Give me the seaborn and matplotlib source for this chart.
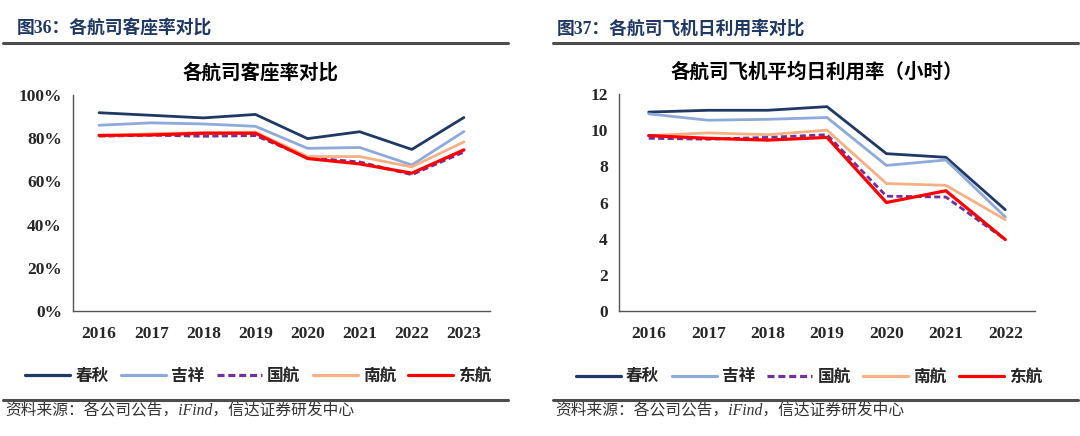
import numpy as np
import pandas as pd
import seaborn as sns
import matplotlib
matplotlib.use("Agg")
from matplotlib import pyplot as plt
from matplotlib.lines import Line2D
from matplotlib.ticker import FuncFormatter

sns.set_theme(style="white")
plt.rcParams['font.family'] = ['Liberation Serif', 'Noto Sans CJK SC', 'DejaVu Sans']
plt.rcParams['axes.unicode_minus'] = False

# ---- data ----
airlines = ['春秋', '吉祥', '国航', '南航', '东航']

years_lf = ['2016', '2017', '2018', '2019', '2020', '2021', '2022', '2023']
lf_chunqiu = [91.8, 90.6, 89.4, 91.0, 79.8, 83.0, 74.8, 89.6]
lf_jixiang = [86.0, 87.1, 86.6, 85.5, 75.3, 75.7, 67.6, 83.1]
lf_guohang = [80.9, 81.4, 80.9, 81.2, 71.0, 69.0, 63.1, 73.6]
lf_nanhang = [80.9, 82.1, 82.6, 82.8, 71.5, 71.5, 66.7, 78.3]
lf_donghang = [81.3, 81.5, 82.3, 82.3, 70.6, 68.1, 63.8, 74.6]

years_util = ['2016', '2017', '2018', '2019', '2020', '2021', '2022']
ut_chunqiu = [11.0, 11.1, 11.1, 11.3, 8.7, 8.5, 5.6]
ut_jixiang = [10.9, 10.55, 10.6, 10.7, 8.05, 8.35, 5.2]
ut_guohang = [9.55, 9.5, 9.6, 9.75, 6.35, 6.3, 3.95]
ut_nanhang = [9.7, 9.85, 9.75, 10.0, 7.05, 6.95, 5.05]
ut_donghang = [9.7, 9.55, 9.45, 9.6, 6.0, 6.65, 3.95]

colors = {'春秋': '#1f3864', '吉祥': '#8eaadb', '国航': '#7030a0',
          '南航': '#f4b183', '东航': '#ff0000'}
dashes = {'春秋': '-', '吉祥': '-', '国航': (0, (2.2, 1.2)), '南航': '-', '东航': '-'}
widths = {'春秋': 2.0, '吉祥': 2.0, '国航': 2.0, '南航': 2.0, '东航': 2.3}

W, H = 1080, 436
fig = plt.figure(figsize=(W / 100, H / 100), dpi=100)
fig.patch.set_facecolor('white')

navy = '#1f3864'


def px_rect(x0, y0, x1, y1):
    return [x0 / W, 1 - y1 / H, (x1 - x0) / W, (y1 - y0) / H]


def hline(x0, x1, y, lw=2.2):
    fig.add_artist(Line2D([x0 / W, x1 / W], [1 - y / H, 1 - y / H],
                          color='#4d4d4d', lw=lw, transform=fig.transFigure))


def draw_panel(rect, years, series, ymax, ystep, fmt, title, title_x, leg_x):
    ax = fig.add_axes(rect)
    n = len(years)
    x = np.arange(n)
    for name, vals in zip(airlines, series):
        sns.lineplot(x=x, y=vals, ax=ax, color=colors[name], linestyle=dashes[name],
                     linewidth=widths[name], legend=False)
    ax.set_xlim(-0.5, n - 0.5)
    ax.set_ylim(0, ymax)
    ax.set_yticks(np.arange(0, ymax + ystep / 2, ystep))
    ax.yaxis.set_major_formatter(FuncFormatter(fmt))
    ax.set_xticks(x)
    ax.set_xticklabels(years)
    ax.set_xticks(np.arange(-0.5, n, 1.0), minor=True)
    ax.tick_params(axis='x', which='major', length=0, pad=11, labelsize=12.5)
    ax.tick_params(axis='x', which='minor', length=5, width=1, color='#555555', direction='out')
    ax.tick_params(axis='y', length=4, width=1, color='#555555', direction='out', labelsize=12.5, pad=4)
    for lab in ax.get_xticklabels() + ax.get_yticklabels():
        lab.set_fontweight('bold')
    for s in ['top', 'right']:
        ax.spines[s].set_visible(False)
    for s in ['left', 'bottom']:
        ax.spines[s].set_color('#555555')
        ax.spines[s].set_linewidth(1)
    ax.set_xlabel('')
    ax.set_ylabel('')
    ax.set_title(title, fontsize=14, fontweight='bold', pad=12, color='black', x=title_x)
    handles = [Line2D([], [], color=colors[a], linestyle=dashes[a], lw=2.3) for a in airlines]
    ax.legend(handles, airlines, loc='upper center', bbox_to_anchor=(leg_x, -0.2),
              ncol=5, frameon=False, handlelength=2.7, columnspacing=0.75,
              handletextpad=0.3, prop={'size': 12, 'weight': 'bold'})
    return ax


draw_panel(px_rect(73, 95, 490, 311), years_lf,
           [lf_chunqiu, lf_jixiang, lf_guohang, lf_nanhang, lf_donghang],
           100, 20, lambda v, p: f'{v:.0f}%', '各航司客座率对比', 0.45, 0.445)

draw_panel(px_rect(619, 94, 1035, 311), years_util,
           [ut_chunqiu, ut_jixiang, ut_guohang, ut_nanhang, ut_donghang],
           12, 2, lambda v, p: f'{v:.0f}', '各航司飞机平均日利用率（小时）', 0.475, 0.457)

# headers
fig.text(17 / W, 1 - 29 / H, '图36：各航司客座率对比', fontsize=12.8, fontweight='bold',
         color=navy, va='center', ha='left')
fig.text(557 / W, 1 - 29 / H, '图37：各航司飞机日利用率对比', fontsize=12.8, fontweight='bold',
         color=navy, va='center', ha='left')
hline(3, 508, 43)
hline(553, 1078, 43)

# bottom rules and sources
hline(3, 508, 400)
hline(553, 1078, 400)
src = '资料来源：各公司公告，iFind，信达证券研发中心'
fig.text(5 / W, 1 - 412 / H, src, fontsize=11.3, style='italic', color='#333333',
         va='center', ha='left')
fig.text(555 / W, 1 - 412 / H, src, fontsize=11.3, style='italic', color='#333333',
         va='center', ha='left')

fig.savefig('out.png', dpi=100, facecolor='white')
